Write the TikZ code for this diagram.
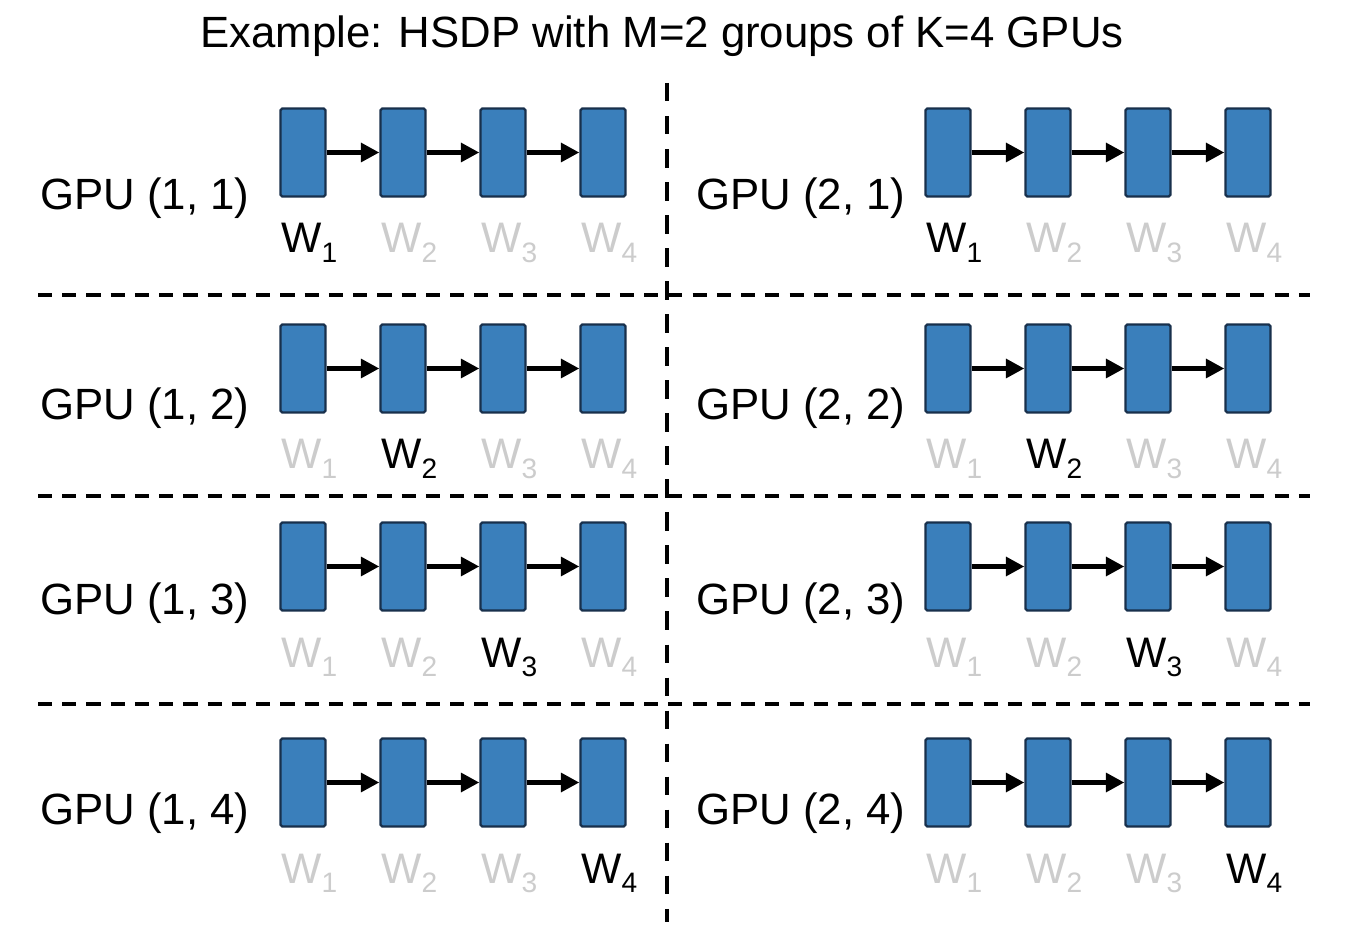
\documentclass[tikz,border=0pt]{standalone}
\usepackage{fontspec}
\setmainfont{Liberation Sans}
\usetikzlibrary{arrows.meta,positioning,calc}
\definecolor{wblue}{RGB}{58,127,187}
\definecolor{wedge}{RGB}{24,48,76}
\definecolor{wgrey}{RGB}{204,204,204}
\newcommand{\Wlab}[1]{W\raisebox{-5.6pt}{\fontsize{16}{16}\selectfont #1}}

\begin{document}
\begin{tikzpicture}[x=0.02cm,y=-0.02cm,
  shard/.style={draw=wedge,fill=wblue,line width=1.3pt,rounded corners=1pt,
    minimum width=0.9cm,minimum height=1.76cm,inner sep=0pt},
  flow/.style={-{Triangle[length=10.5pt,width=10.5pt]},line width=3.2pt},
  big/.style={font=\fontsize{24.9}{29}\selectfont,inner sep=0pt},
  wbig/.style={font=\fontsize{24.3}{29}\selectfont,inner sep=0pt},
  split/.style={line width=2.6pt,dash pattern=on 8pt off 5.8pt},
  vsplit/.style={line width=2.6pt,dash pattern=on 10.5pt off 8.3pt}]
  \useasboundingbox (0,0) rectangle (1348,928);
  % title
  \node[big,anchor=base] (title) at (662,48) {Example: HSDP with M=2 groups of K=4 GPUs};
  % separators between groups and GPUs
  \draw[vsplit] (667,83) -- (667,922);
  \foreach \yy in {295,496,704}
    \draw[split] (38,\yy) -- (1310,\yy);
  % one row per GPU: label, four shards, chain of arrows, weight labels
  \foreach \g/\xg/\xl in {1/303/40,2/948/696}{
    \foreach \r/\yc/\yg in {1/152.5/210,2/368.5/420,3/566.5/614,4/782.5/824}{
      \node[big,anchor=base west] (gpu-\g-\r) at (\xl,\yg) {GPU (\g, \r)};
      \foreach \i in {1,...,4}{
        \node[shard] (b-\g-\r-\i) at ({\xg+100*(\i-1)},\yc) {};
        \ifnum\i=\r \def\wcol{black}\else\def\wcol{wgrey}\fi
        \node[wbig,text=\wcol,anchor=base west] (w-\g-\r-\i)
          at ({\xg+100*(\i-1)-22},\yc+100.5) {\Wlab{\i}};
      }
      \foreach \i [evaluate=\i as \j using int(\i+1)] in {1,2,3}
        \draw[flow] (b-\g-\r-\i.east) -- (b-\g-\r-\j.west);
    }
  }
\end{tikzpicture}
\end{document}
